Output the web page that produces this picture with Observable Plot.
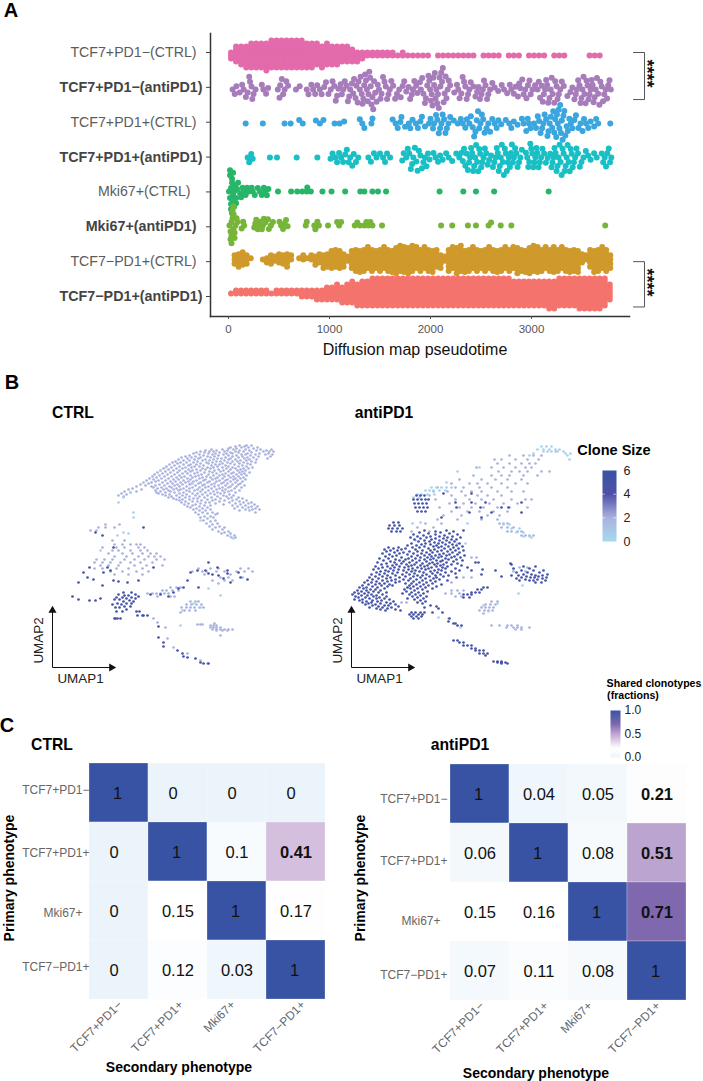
<!DOCTYPE html>
<html><head><meta charset="utf-8">
<script src="https://cdn.jsdelivr.net/npm/d3@7"></script>
<script src="https://cdn.jsdelivr.net/npm/@observablehq/plot@0.6"></script>
<style>html,body{margin:0;padding:0;background:#fff;overflow:hidden}
#page{position:relative;width:703px;height:1081px;font-family:"Liberation Sans",Arial,sans-serif;overflow:hidden}
.t{position:absolute;white-space:nowrap;transform:translate(-50%,-50%);color:#000}</style></head>
<body><div id="page"></div>
<script>
// ---------- Panel A: pseudotime ----------
const rowNames=["TCF7+PD1−(CTRL)","TCF7+PD1−(antiPD1)","TCF7+PD1+(CTRL)","TCF7+PD1+(antiPD1)","Mki67+(CTRL)","Mki67+(antiPD1)","TCF7−PD1+(CTRL)","TCF7−PD1+(antiPD1)"];
const rowColors=["#e36aab","#a77cbb","#3ba5de","#18bfc4","#27b669","#77b539","#cf9a2b","#f4736d"];
const timeTicks=[0,1000,2000,3000];
// counts per 50-unit pseudotime bin (bin centres 25, 75, ...)
const pinkCounts=[3,6,7,8,9,9,9,10,10,10,10,10,10,10,10,9,9,8,8,8,7,7,6,6,5,4,3,2,2,2,2,2,2,1,2,1,1,1,1,1,0,1,1,1,1,1,1,1,1,0,1,1,1,1,0,1,1,1,0,1,1,1,1,0,1,1,1,0,0,0,0,1,1,1,0];
const redCounts=[1,2,2,2,2,2,2,2,1,2,2,2,2,2,3,3,3,4,4,5,5,6,6,7,8,8,9,9,10,10,10,10,10,10,10,10,10,10,10,10,10,10,10,10,10,10,10,10,10,10,10,10,10,10,10,10,9,9,9,9,9,9,9,10,10,10,10,10,10,11,11,11,11,11,10,6];
// counts per 40-unit pseudotime bin (bin centres 20, 60, ...)
const goldCounts=[0,3,4,4,3,1,0,0,1,2, 3,2,3,3,4,2,0,1,2,1, 2,3,3,4,4,5,5,5,4,2, 5,6,6,6,6,6,5,6,6,6, 6,7,7,7,7,7,6,6,6,6, 6,5,4,2,6,6,7,7,6,6, 6,6,5,6,6,6,6,6,6,6, 6,7,6,6,7,7,7,6,6,6, 7,6,6,6,6,6,6,3,2,5, 6,6,6,6,4];
const purpleVals=[40,62,78,110,135,150,172,190,205,213,228,236,248,268,330,345,372,392,488,505,512,528,541,556,572,590,668,705,775,792,820,838,858,878,905,922,948,965,990,1012,1030,1047,1062,1075,1088,1110,1122,1137,1151,1170,1182,1195,1205,1222,1235,1243,1258,1266,1279,1288,1300,1308,1319,1327,1335,1344,1352,1361,1370,1378,1386,1394,1402,1408,1416,1425,1433,1441,1452,1466,1478,1490,1505,1515,1530,1545,1557,1570,1584,1597,1612,1630,1650,1668,1690,1705,1725,1740,1760,1783,1798,1815,1826,1840,1858,1870,1895,1905,1918,1930,1945,1955,1968,1980,1988,1996,2005,2012,2020,2028,2035,2043,2050,2058,2066,2074,2082,2090,2098,2106,2114,2122,2130,2140,2150,2158,2170,2180,2195,2235,2262,2275,2288,2305,2318,2332,2345,2358,2372,2385,2398,2425,2445,2462,2475,2490,2505,2518,2530,2545,2560,2572,2590,2612,2635,2670,2705,2728,2760,2785,2800,2825,2842,2866,2878,2890,2908,2922,2938,2950,2965,2980,2992,3010,3035,3060,3072,3085,3102,3112,3122,3135,3145,3155,3165,3178,3190,3200,3210,3225,3235,3248,3258,3270,3285,3300,3320,3355,3385,3405,3425,3438,3450,3462,3475,3485,3495,3505,3515,3525,3535,3545,3555,3565,3575,3585,3595,3605,3615,3625,3635,3648,3660,3672,3682,3695,3708,3720,3735,3748,3760,3772,3785];
const blueVals=[170,340,555,615,700,735,865,905,940,1050,1100,1145,1300,1325,1345,1415,1425,1625,1655,1675,1702,1712,1748,1785,1800,1822,1855,1875,1900,1915,1945,1985,2000,2025,2035,2055,2068,2082,2095,2108,2120,2135,2148,2162,2178,2195,2230,2270,2300,2320,2345,2360,2385,2400,2418,2432,2445,2458,2470,2482,2495,2508,2522,2535,2555,2572,2590,2612,2635,2655,2672,2700,2745,2780,2800,2825,2862,2905,2922,2948,2962,2975,2990,3025,3045,3062,3075,3090,3105,3118,3130,3145,3158,3168,3180,3192,3205,3215,3225,3235,3245,3252,3260,3268,3276,3284,3292,3300,3308,3316,3325,3335,3348,3360,3375,3390,3405,3425,3440,3465,3485,3505,3520,3540,3562,3585,3620,3640,3660,3780];
const tealVals=[190,205,225,240,410,480,675,880,1010,1030,1058,1075,1095,1115,1135,1155,1172,1190,1205,1225,1240,1262,1285,1385,1410,1440,1465,1500,1530,1550,1570,1600,1720,1735,1760,1775,1790,1805,1818,1830,1845,1860,1872,1885,1900,1915,1930,1945,1960,1975,1990,2030,2050,2075,2095,2120,2155,2180,2215,2255,2285,2305,2320,2332,2345,2358,2370,2382,2392,2402,2412,2422,2432,2442,2452,2462,2472,2482,2492,2502,2512,2525,2538,2552,2565,2580,2600,2618,2632,2645,2656,2666,2676,2686,2696,2706,2716,2726,2736,2746,2756,2766,2776,2786,2796,2806,2816,2826,2838,2850,2862,2876,2890,2905,2945,2958,2968,2978,2988,2998,3008,3018,3028,3038,3048,3058,3070,3082,3095,3108,3125,3142,3160,3185,3198,3208,3218,3228,3238,3248,3258,3268,3278,3288,3298,3308,3318,3328,3338,3348,3358,3368,3378,3388,3398,3408,3420,3432,3445,3460,3478,3495,3515,3538,3560,3585,3620,3645,3695,3710,3725,3738,3750,3765,3778,3790];
const mkiCtrl=[5,15,15,15,25,25,25,35,35,35,45,45,45,55,55,65,75,75,85,95,115,125,140,150,170,185,200,230,240,260,290,310,330,350,365,380,395,490,620,680,730,775,780,815,930,1020,1155,1305,1345,1425,1480,1560,2090,2325,2450,2630,3170];
const mkiAnti=[10,20,20,30,30,30,40,40,50,50,50,60,60,70,80,90,130,145,155,255,265,275,290,300,310,330,340,350,365,390,400,420,440,505,520,540,555,570,585,765,775,850,860,880,895,985,1075,1095,1115,1250,1275,1300,1345,1365,1385,1405,1425,1520,2105,2215,2370,2450,2575,2600,2695,2800,3730];
const fromBins=(c,w)=>c.flatMap((n,i)=>Array(n).fill(w/2+w*i));
// placement order for the swarm only: values stay as read
const swarmOrder=a=>a.map((v,i)=>[v,(i*.618)%1]).sort((p,q)=>p[1]-q[1]).map(p=>p[0]);
const rowValues=[fromBins(pinkCounts,50),swarmOrder(purpleVals),swarmOrder(blueVals),swarmOrder(tealVals),swarmOrder(mkiCtrl),swarmOrder(mkiAnti),swarmOrder(fromBins(goldCounts,40)),fromBins(redCounts,50)];
const rowPadding=[-3,-1,-1,-1,-2,-2,-1.8,-3];
const labelShift=[-13,-7,-13,-7,-19,-13,-13,-7];
const brackets=[[1,2.35],[7,8.3]];
const starRows=[1.6,7.6];

// ---------- Panel B: UMAP scanlines [umap2,[umap1...]] grouped by clone size ----------
const ctrlMid=[[222,[187,194,199]],[221,[183,192]],[220,[178,189,196,205]],[219,[176,184,201]],[218,[159,170,181,193,208,219]],[217,[153,164,175,187,197,204,214]],[216,[148,157,161,172,183,191,211,217,221]],[215,[144,152,167,178,186,199]],[214,[141,156,163,174,180,195,207,216]],[213,[147,160,171,189,193,203,213,220]],[212,[137,151,166,176,184,198]],[211,[133,143,155,162,180,190,206,218]],[210,[129,139,148,158,173,186,195,201]],[209,[135,146,165,169,178,192,215]],[208,[126,142,153,161,176,183,197,204]],[207,[131,137,150,157,172,188,194]],[206,[123,145,164,168,180,185,199]],[205,[120,128,134,141,154,160,175,191,203]],[204,[125,148,156,170,178,187,195]],[203,[117,131,138,144,163,167,182,198]],[202,[122,136,151,159,173,190]],[201,[114,127,142,147,165,176,186,194]],[200,[119,133,139,155,161,170,180,200]],[199,[111,124,130,150,158,174,183,191,196]],[198,[116,136,144,153,166,178,188]],[197,[108,121,127,140,148,162,171,185,193]],[196,[113,133,138,157,168,176,190]],[195,[105,118,125,145,152,160,181,187,197]],[194,[110,130,135,142,164,173,179,192]],[193,[102,115,122,149,156,170,184,189]],[192,[107,127,138,146,161,167,176,194]],[191,[100,112,119,132,143,154,172,181,186]],[190,[104,124,129,140,150,158,165,178,191]],[189,[97,109,116,135,147,163,170,183,188]],[188,[101,121,126,138,153,160,175,181,193]],[187,[94,106,113,131,144,151,167,173,185]],[186,[103,118,123,136,141,157,164,178,190]],[185,[91,99,110,128,133,148,155,171,183]],[184,[96,115,120,139,146,162,169,175,188]],[183,[88,107,125,130,137,152,159,180,186]],[182,[93,103,112,122,143,150,166,173,192]],[181,[84,99,117,127,134,156,162,178,184]],[180,[101,109,119,140,147,153,170,176,189]],[179,[80,105,114,124,131,137,159,167,182]],[178,[76,89,111,121,128,145,150,164,173]],[177,[103,116,126,134,142,156,170,179,187]],[176,[72,84,108,118,137,148,161,176]],[175,[78,104,113,122,131,153,165,172,183]],[174,[69,106,127,140,145,158,168]],[173,[74,110,117,134,150,162,177]],[172,[66,113,124,130,143,155,171,181]],[171,[71,119,137,147,165,174]],[170,[116,127,133,152,159,179,186]],[169,[121,141,145,168,176,190]],[168,[124,130,137,155,163,184]],[167,[127,149,160,172,180,194]],[166,[133,140,145,167,187]],[165,[129,153,157,177,191,199]],[164,[136,148,163,183,196]],[163,[132,143,171,188,202]],[162,[140,152,158,180,193]],[161,[135,147,185,199,205]],[160,[138,155,190,196]],[159,[144,150,182,203]],[158,[141,158,193,200,207]],[157,[147,153,187,197]],[155,[143,150,160,203]],[154,[155,165]],[153,[146,163]],[151,[152,158]],[150,[148,161]],[149,[155]],[147,[151,163]],[146,[158]],[144,[154,165]],[143,[160]],[141,[157,167]],[140,[163,172]],[138,[160,170]],[136,[166,176]],[135,[172]],[134,[169,178]],[132,[175,182]],[130,[179,183]],
[143,[53,67]],[140,[46,53,62]],[137,[38,44]],[127,[60,72]],[123,[62,70,78,84,88]],[120,[50,64,72,86,92]],[117,[60,66,78,88,95]],[114,[56,70,80,90,98,104]],[111,[62,74,86,96,102,108]],[108,[44,52,60,72,82,92,104,112]],[105,[42,50,58,68,78,88,100]],[102,[48,56,66,82,94,110]],[99,[42,50,64,76,90,146,158,166,188,196]],[96,[58,70,84,96,140,150,154,164,172,184,192,200]],[93,[62,76,90,152,178]],[90,[168,176,190]],[87,[160,172,180]],[84,[166]],[80,[128,124,118]],[77,[110,114,120,126]],[74,[95,100,104,108,112,116]],[71,[118,122,105]],[66,[138,143,146]],[63,[134,139,144,149]],[60,[129,134,138,142,147,151]],[57,[132,137,143]],[55,[128]],[49,[101]],[45,[105]],[44,[162]],[43,[145,148,150]],[42,[158,161,164]],[40,[113,158,161,164,168]],[38,[160,164,168,172,176,180]],[37,[164,170,175]],[32,[168]],[29,[115]],[20,[121]],[14,[135]],[7,[148]],[4,[155]]];
const ctrlDark=[[140,[91]],[135,[43]],[132,[50]],[120,[61]],[105,[156]],[100,[37,55,101,165]],[97,[58,145,153,175]],[95,[31,51,138,186]],[94,[156,175]],[93,[160]],[92,[166]],[90,[35,188]],[89,[171]],[88,[41,195]],[87,[61,86,135]],[86,[66]],[85,[26,75,178]],[82,[50]],[80,[131,146]],[79,[126]],[75,[121,71,79]],[73,[98,108,66,83]],[72,[72,76]],[71,[20,86,116]],[70,[64,70,79]],[69,[48,74,83]],[68,[26,62,67]],[67,[37,43,77]],[66,[71,81]],[64,[65,74,79]],[63,[60,69]],[61,[72,78]],[60,[63,67]],[58,[74]],[56,[64,70,84,87]],[52,[85,90,91,95]],[49,[62,63,65,68]],[41,[106]],[30,[106]],[25,[111]],[21,[111]],[17,[125]],[14,[130]],[11,[131]],[10,[135]],[9,[143]],[5,[148]],[4,[151,156]]];
const ctrlLight=[[200,[113]],[197,[108]],[184,[140]],[175,[78]],[170,[71]],[165,[66]],[155,[81]],[150,[81]],[147,[148]],[135,[71]],[134,[76]],[132,[65]],[131,[178]],[129,[181]],[117,[48]],[79,[156]],[72,[168]],[64,[141]],[60,[148]],[57,[130]],[42,[128]]];
const antiDark=[[174,[92,120]],[172,[65,69,73]],[168,[62,66,70,74,77]],[165,[104,120,134,170]],[164,[63,67,71,75]],[160,[64,68,72,76,105,129,150,157]],[156,[66,70,74]],[155,[118,140,170]],[150,[90,130]],[145,[42,47]],[142,[38,43,48]],[139,[37,41,46,51]],[136,[40,45,49]],
[137,[73,95,112]],[136,[84,102]],[135,[68,89]],[134,[77,98]],[133,[62,84,106]],[132,[72,93]],[131,[66,79,88,101]],[130,[59,75,96,109]],[129,[69,84,92]],[128,[63,80,100,105]],[127,[73,88,95]],[126,[67,78,103]],[125,[83,91,98]],[124,[60,74,87,108]],[123,[70,79,94,101]],[122,[56,65,85,105]],[121,[73,82,90,97,111]],[120,[37,47,61,68,87,102]],[119,[42,54,77,93,107]],[118,[33,50,64,83,99]],[117,[39,46,71,79,90,104,112]],[116,[35,58,66,86,96]],[115,[43,52,75,81,101,108]],[114,[31,48,62,70,92]],[113,[38,56,78,88,98,106]],[112,[45,66,73,84,95,113]],[111,[34,41,60,80,90,103]],[110,[50,69,76,87,100,109]],[109,[28,37,57,64,82,94]],[108,[44,54,73,79,97,105]],[107,[32,48,61,68,85,91,111]],[106,[39,52,75,89,102]],[105,[26,43,58,65,81,95,124,127]],[104,[35,50,71,78,86,106,159]],[103,[30,45,55,63,83,92,100,160]],[102,[41,60,69,76,89,110]],[101,[24,36,48,57,73,85,96,172,184]],[100,[31,43,53,66,80,91,116]],[99,[27,39,61,70,77,94,104,162,178]],[98,[22,47,57,74,87,131]],[97,[34,42,52,64,83,90,108,120,144,170,182,192]],[96,[29,37,60,68,79,100]],[95,[25,46,55,72,86,94,165,176,188]],[94,[33,41,63,81,104]],[93,[20,28,51,58,75,89,130,172,180,196]],[92,[36,44,66,71,84,97,160,167,184,191]],[91,[24,31,54,62,78,92,150,175,187]],[90,[18,39,48,69,85,105,170,179,183,195]],[89,[27,35,59,74,82,165,191]],[88,[21,44,52,65,88,174,186]],[87,[16,31,40,57,71,79,96,168,178,182,194]],[86,[25,36,48,62,84]],[85,[13,20,44,68,75,184,190]],[84,[28,33,54,60,81]],[83,[17,24,38,65,72,90]],[82,[11,30,41,58,77]],[81,[21,36,62,69,85]],[80,[8,15,26,56,74,132,136]],[79,[12,33,59,66,81]],[78,[19,24,53,71,126,130]],[77,[6,15,29,63]],[76,[10,22,55,76]],[75,[3,17,27,35,60,67,120,124,128]],[74,[7,13,51,72]],[73,[1,20,31,58,64,112,116,120]],[72,[10,16,25,69]],[71,[4,22,35,61,75]],[70,[7,14,28,66,112,118]],[69,[18,25,33,56,72]],[68,[3,11,38,63]],[67,[8,21,30,69]],[66,[15,26,42,74]],[65,[11,20,35,66]],[64,[17,29,39,71]],[63,[14,24,44]],[62,[21,33,37,79]],[61,[27,47,85]],[60,[18,31,40,73]],[59,[25,36,87]],[58,[44,29]],[57,[34,49]],[55,[60,64,69,73,81,91]],[53,[58,62,67,71]],[51,[60,65,70]],[49,[62,67,98]],[46,[97]],[44,[102,104]],[42,[106,110]],[27,[102,106]],[25,[108,112]],[22,[112,116,120]],[19,[120,124]],[17,[124,128,132]],[14,[128,132,136]],[12,[134]],[6,[142,146,150]],[5,[146,150,154]],[4,[150,156]]];
const antiMid=[[212,[158,172,182,190]],[208,[143,150,164,176,187]],[204,[146,158,170,178,184]],[200,[125,140,152,164,174,180]],[196,[147,160,168,176,190,198]],[192,[122,140,150,158,172,186]],[188,[108,130,144,156,170]],[184,[100,118,126,136,150,164,176]],[180,[86,104,112,128,140,156]],[176,[82,96,110,120,130,146,160,172]],[172,[78,100,114,126,136,150]],[168,[84,104,118,130,142,160,174,180]],[164,[98,112,124,138,152,166]],[160,[88,108,120,132,146,158,176]],[156,[100,116,128,142,156]],[152,[92,110,136,148]],[148,[86,106,130,146]],[144,[74,90,148,152,156]],[140,[66,82,150,156,162]],[136,[60,78,156,160,166,170]],[132,[170,174,178,182]],[110,[120,125]],[100,[168,176]],[96,[162,174]],[90,[112,120]],[85,[100]],[77,[100,106,112]],[74,[94,100,108]],[71,[104,110]],[66,[140,146]],[65,[55,50]],[63,[134,139,144]],[60,[130,134,138,142]],[57,[128,133,137,141]],[54,[132]],[42,[140,148,156,160,166]],[40,[155,162,166,170,178]],[38,[164,170]]];
const antiLight=[[221,[190,195,200]],[218,[186,192,198,204,208]],[216,[192,196,200,204,206,212]],[214,[182,214,219]],[212,[178,216]],[208,[218]],[200,[128]],[196,[106]],[185,[95]],[180,[80,85,90,95,100]],[177,[74,78,82,88,94]],[173,[66,70,76,83]],[170,[62,68]],[145,[69]],[144,[61,116]],[143,[152,158]],[139,[160,168]],[135,[165,172]],[131,[172,178]],[130,[180]],[127,[64]],[124,[106,114]],[97,[62,162]],[82,[171]],[80,[56]],[74,[167]],[64,[146]],[62,[132]],[56,[137]],[50,[87]],[49,[97]],[40,[109]]];
const cloneSizes={light:0.4,mid:2,dark:5};
const cloneTicks=[0,2,4,6];

// ---------- Panel C: shared clonotypes ----------
const phenos=["TCF7+PD1−","TCF7+PD1+","Mki67+","TCF7−PD1+"];
const heatCtrl=[[1,0,0,0],[0,1,.1,.41],[0,.15,1,.17],[0,.12,.03,1]];
const heatAnti=[[1,.04,.05,.21],[.06,1,.08,.51],[.15,.16,1,.71],[.07,.11,.08,1]];
const shareTicks=[0,.5,1];

// ---------- helpers ----------
const page=document.getElementById("page");
const FONT='"Liberation Sans",Arial,sans-serif';
const put=(el,left,top)=>{el.style.position="absolute";el.style.left=left+"px";el.style.top=top+"px";el.style.background="transparent";page.appendChild(el)};
const label=(s,x,y,size,bold=true,rot=0,color="#000")=>{const d=document.createElement("div");d.className="t";d.textContent=s;
  d.style.cssText+=`left:${x}px;top:${y}px;font-size:${size}px;font-weight:${bold?700:400};color:${color};transform:translate(-50%,-50%) rotate(${rot}deg)`;page.appendChild(d)};

// Panel A swarm layer
const xA={domain:[0,3000],range:[228,531]};
const rowsData=rowValues.flatMap((vals,i)=>vals.map(x=>({x,row:rowNames[i]})));
put(Plot.plot({width:703,height:330,marginTop:34.6,marginBottom:16.6,marginLeft:0,marginRight:0,
  x:{...xA,axis:null},fy:{domain:rowNames,padding:0,axis:null},
  marks:rowNames.map((n,i)=>Plot.dot(rowsData.filter(d=>d.row===n),Plot.dodgeY({anchor:"middle",padding:rowPadding[i]},{x:"x",fy:"row",r:3,fill:rowColors[i]})))
}),0,0);
// Panel A axes layer
const xLeft=-178;
put(Plot.plot({width:703,height:360,marginTop:33,marginBottom:44,marginLeft:210,marginRight:74,
  style:{fontFamily:FONT},
  x:{...xA,axis:null},y:{domain:[1,8],range:[52,296],axis:null},
  marks:[
   Plot.frame({anchor:"left",stroke:"#333",strokeWidth:1.5}),
   Plot.frame({anchor:"bottom",stroke:"#333",strokeWidth:1.5}),
   Plot.axisX({ticks:timeTicks,tickFormat:d=>String(d),tickSize:3,tickPadding:5,fontSize:11.5,color:"#555",label:null,anchor:"bottom"}),
   Plot.axisY({ticks:d3.range(1,9),tickFormat:()=>"",tickSize:4,anchor:"left",label:null,color:"#444"}),
   ...rowNames.map((n,i)=>Plot.text([n],{x:xLeft,y:()=>i+1,text:d=>d,textAnchor:"end",dx:labelShift[i]-1,fontSize:i%2?14.3:14.2,fontWeight:i%2?700:400,fill:i%2?"#444":"#5c5c5c"})),
   ...brackets.map(([a,b])=>Plot.line([[4010,a],[4119,a],[4119,b],[4010,b]],{stroke:"#555",strokeWidth:1})),
   ...starRows.map(r=>Plot.text(["****"],{x:4140,y:()=>r,rotate:90,fontSize:18,fontWeight:700,fill:"#111"}))
  ]}),0,0);
label("Diffusion map pseudotime",415,350,16,false,0,"#111");
label("A",11,10,20);label("B",12,382,20);label("C",7,725,20);

// Panel B
const cloneColor={type:"linear",domain:[0,2,4,6],range:["#a6daee","#a9b2de","#4f51a8","#3953a4"]};
const expand=(rows,size)=>rows.flatMap(([v,us])=>us.map(u=>({u,v,size})));
function umap(left,w,groups){
  return put(Plot.plot({width:w,height:255,margin:0,style:{fontFamily:FONT},
   x:{domain:[-22,w-22],range:[0,w],axis:null},y:{domain:[-25,230],range:[255,0],axis:null},color:cloneColor,
   marks:[
    ...groups.map(g=>Plot.dot(g,{x:"u",y:"v",r:1.35,fill:"size"})),
    Plot.link([0],{x1:0,y1:0,x2:58,y2:0,stroke:"#111",strokeWidth:1}),
    Plot.link([0],{x1:0,y1:0,x2:0,y2:56,stroke:"#111",strokeWidth:1}),
    Plot.dot([0],{x:59,y:0,symbol:"triangle",r:3,fill:"#111",rotate:90}),
    Plot.dot([0],{x:0,y:57,symbol:"triangle",r:3,fill:"#111"}),
    Plot.text(["UMAP1"],{x:28,y:-11,fontSize:13.4,fill:"#222"}),
    Plot.text(["UMAP2"],{x:-14,y:27,rotate:-90,fontSize:13.4,fill:"#222"})
   ]}),left,437);
}
umap(30,322,[expand(ctrlMid,cloneSizes.mid),expand(ctrlLight,cloneSizes.light),expand(ctrlDark,cloneSizes.dark)]);
umap(329,300,[expand(antiMid,cloneSizes.mid),expand(antiLight,cloneSizes.light),expand(antiDark,cloneSizes.dark)]);
label("CTRL",73,413,15.7);label("antiPD1",384,413,15.7);
label("Clone Size",614,450,14.5);
put(Plot.plot({width:60,height:90,margin:0,style:{fontFamily:FONT},
  x:{domain:[0,1],range:[7,21],axis:null},y:{domain:[0,6],range:[81,10],axis:null},color:cloneColor,
  marks:[Plot.raster({x1:0,x2:1,y1:0,y2:6,width:1,height:71,fill:(x,y)=>y}),
   Plot.ruleY([2,4],{x1:0,x2:.2,stroke:"#fff",strokeOpacity:.6}),Plot.ruleY([2,4],{x1:.8,x2:1,stroke:"#fff",strokeOpacity:.6}),
   Plot.text(cloneTicks,{x:1,y:d=>d,text:d=>String(d),dx:7,textAnchor:"start",fontSize:12.5,fill:"#222"})]}),595,460);

// Panel C
const heatColor={type:"linear",domain:[0,.15,.21,.41,.51,.71,1],range:["#ebf4fb","#ffffff","#fdfdfe","#d4bfdf","#bca4d0","#7f68ae","#3953a4"]};
function heat(left,top,w,mL,mR,matrix,yDy,yDx,xDx){
  const cells=matrix.flatMap((r,i)=>r.map((value,j)=>({value,row:phenos[i],col:phenos[j]})));
  const isBold=d=>d.value>=.21&&d.value<1;
  put(Plot.plot({width:w,height:330,marginLeft:mL,marginRight:mR,marginTop:14,marginBottom:80,style:{fontFamily:FONT},
   x:{domain:phenos,padding:0,axis:null},y:{domain:phenos,padding:0,axis:null},color:heatColor,
   marks:[
    Plot.cell(cells,{x:"col",y:"row",fill:"value",stroke:"#fff",strokeOpacity:.5,strokeWidth:.5}),
    Plot.text(cells.filter(d=>!isBold(d)&&d.value!==0&&d.value!==1),{x:"col",y:"row",text:d=>String(d.value),fontSize:16.5,fill:"#111",dy:1}),
    Plot.text(cells.filter(d=>d.value===1),{x:"col",y:"row",text:d=>String(d.value),fontSize:16.5,fill:"#111",dx:-1.5,dy:1}),
    Plot.text(cells.filter(d=>d.value===0),{x:"col",y:"row",text:d=>String(d.value),fontSize:16.5,fill:"#111",dx:-5,dy:1}),
    Plot.text(cells.filter(isBold),{x:"col",y:"row",text:d=>String(d.value),fontSize:16.5,fontWeight:700,fill:"#111",dy:1}),
    ...phenos.map((p,i)=>Plot.text([p],{y:d=>d,frameAnchor:"left",textAnchor:"end",dx:yDx[i],dy:yDy[i],fontSize:12,fill:"#666",text:d=>d})),
    ...phenos.map((p,i)=>Plot.text([p],{x:d=>d,frameAnchor:"bottom",rotate:-45,textAnchor:"end",dx:xDx[i],dy:6,fontSize:12,fill:"#666",text:d=>d}))
   ]}),left,top);
}
heat(0,749,345,89,20,heatCtrl,[-3,1,2,-3],[0,0,-7,0],[4,6,-1,10]);
heat(350,750,353,99,17,heatAnti,[5,8,9,4],[-2,-2,-9,-2],[5,10,-5,4]);
label("CTRL",52,745,15.7);label("antiPD1",460,745,15.7);
label("Primary phenotype",9,878,14,true,-90);label("Secondary phenotype",179,1067,14);
label("Primary phenotype",360,878,14,true,-90);label("Secondary phenotype",536,1073,14);
label("Shared clonotypes",654,683,10.6);label("(fractions)",633,695,10.6);
put(Plot.plot({width:60,height:60,margin:0,style:{fontFamily:FONT},
  x:{domain:[0,1],range:[5,15],axis:null},y:{domain:[0,1],range:[53,6],axis:null},color:heatColor,
  marks:[Plot.raster({x1:0,x2:1,y1:0,y2:1,width:1,height:50,fill:(x,y)=>y}),
   Plot.text(shareTicks,{x:1,y:d=>d,text:d=>d3.format(".1f")(d),dx:4,textAnchor:"start",fontSize:12,fill:"#222"})]}),605,704);
</script></body></html>
